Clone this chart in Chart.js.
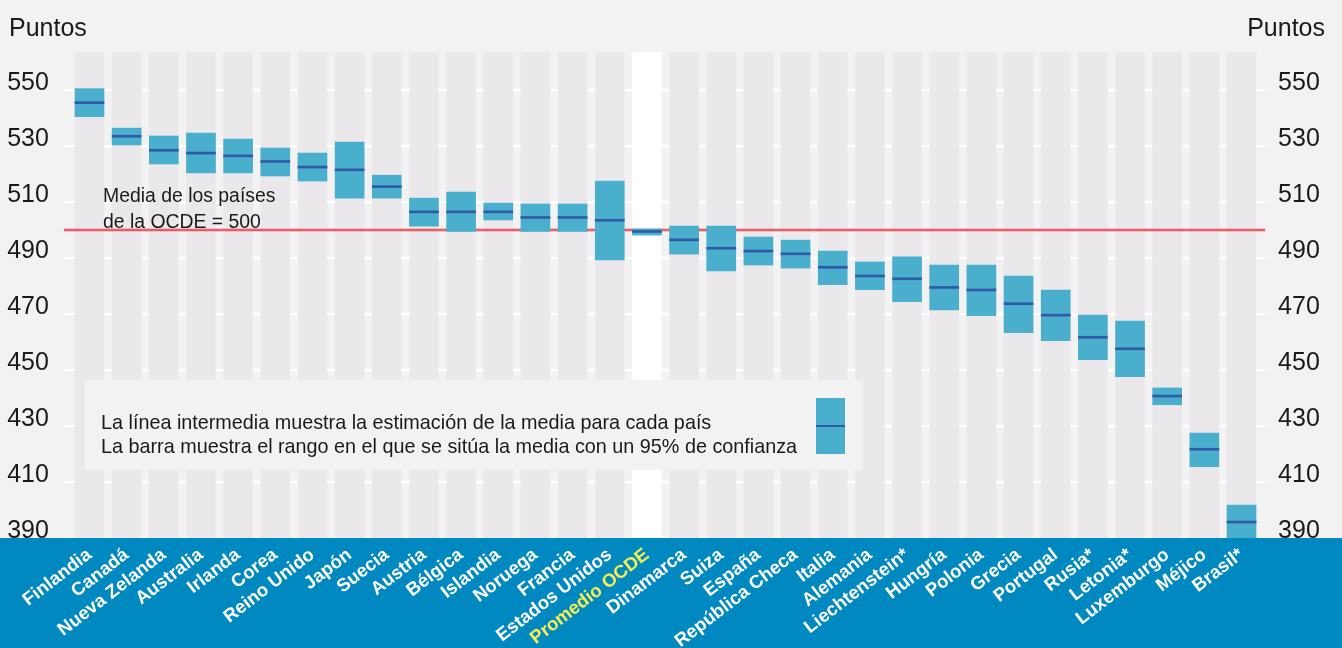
<!DOCTYPE html>
<html>
<head>
<meta charset="utf-8">
<script src="https://cdn.jsdelivr.net/npm/chart.js@4"></script>
<style>
    html, body { margin: 0; padding: 0; background: #f2f2f2; }
    canvas { display: block; }
</style>
</head>
<body>
<canvas id="pisaChart" width="1342" height="648"></canvas>
<script>
// Datos (puntuacion media y rango al 95%)
const categories = ['Finlandia', 'Canadá', 'Nueva Zelanda', 'Australia', 'Irlanda', 'Corea', 'Reino Unido',
    'Japón', 'Suecia', 'Austria', 'Bélgica', 'Islandia', 'Noruega', 'Francia', 'Estados Unidos',
    'Promedio OCDE', 'Dinamarca', 'Suiza', 'España', 'República Checa', 'Italia', 'Alemania',
    'Liechtenstein*', 'Hungría', 'Polonia', 'Grecia', 'Portugal', 'Rusia*', 'Letonia*', 'Luxemburgo',
    'Méjico', 'Brasil*'];
const meanScores = [545.5, 533.5, 528.5, 527.5, 526.5, 524.5, 522.5, 521.5, 515.5, 506.5, 506.5, 506.5,
    504.5, 504.5, 503.5, 499.5, 496.5, 493.5, 492.5, 491.5, 486.7, 483.6, 482.6, 479.5, 478.6, 473.7,
    469.6, 461.7, 457.6, 440.7, 421.7, 395.7];
const lowerBounds = [540.5, 530.4, 523.6, 520.4, 520.4, 519.3, 517.5, 511.4, 511.4, 501.4, 499.5, 503.6,
    499.5, 499.5, 489.3, 498.2, 491.4, 485.4, 487.5, 486.4, 480.5, 478.7, 474.4, 471.5, 469.4, 463.3,
    460.5, 453.7, 447.6, 437.6, 415.5, 390];
const upperBounds = [550.5, 536.4, 533.6, 534.6, 532.5, 529.3, 527.5, 531.4, 519.6, 511.4, 513.6, 509.6,
    509.3, 509.3, 517.5, 500.4, 501.4, 501.4, 497.5, 496.4, 492.5, 488.6, 490.4, 487.5, 487.5, 483.6,
    478.6, 469.6, 467.5, 443.6, 427.5, 401.8];
const yTicks = [390, 410, 430, 450, 470, 490, 510, 530, 550];
const oecdMean = 500;
const legendSample = { low: 420, mean: 430, high: 440 };

const Y_MIN = 390;
const Y_MAX = 563.6;
const FONT = '"Liberation Sans", Arial, sans-serif';

// Fondo azul, linea roja y caja explicativa
const decorations = {
    id: 'decorations',
    beforeDatasetsDraw(chart) {
        const { ctx, chartArea, width, height } = chart;
        ctx.save();
        ctx.fillStyle = '#0088c1';
        ctx.fillRect(0, chartArea.bottom, width, height - chartArea.bottom);
        ctx.restore();
    },
    afterDatasetDraw(chart, args) {
        if (args.index !== 0) return;
        const { ctx, chartArea } = chart;
        const y = chart.scales.y.getPixelForValue(oecdMean);
        ctx.save();
        ctx.strokeStyle = 'rgba(232, 130, 140, 0.55)';
        ctx.lineWidth = 3.5;
        ctx.beginPath();
        ctx.moveTo(chartArea.left - 7, y);
        ctx.lineTo(chartArea.right + 5, y);
        ctx.stroke();
        ctx.strokeStyle = '#e1464d';
        ctx.lineWidth = 1.6;
        ctx.beginPath();
        ctx.moveTo(chartArea.left - 7, y);
        ctx.lineTo(chartArea.right + 5, y);
        ctx.stroke();
        ctx.restore();
    },
    afterDatasetsDraw(chart) {
        const { ctx } = chart;
        const yScale = chart.scales.y;
        ctx.save();

        // caja de leyenda
        ctx.fillStyle = '#f2f2f2';
        ctx.fillRect(85, 380, 778, 90);
        const top = yScale.getPixelForValue(legendSample.high);
        const bottom = yScale.getPixelForValue(legendSample.low);
        const mid = yScale.getPixelForValue(legendSample.mean);
        ctx.fillStyle = '#4aafcd';
        ctx.fillRect(816, top, 29, bottom - top);
        ctx.fillStyle = '#2f5aa6';
        ctx.fillRect(816, mid - 1, 29, 2);

        ctx.fillStyle = '#1a1a1a';
        ctx.textBaseline = 'alphabetic';
        ctx.textAlign = 'left';
        ctx.font = '19.8px ' + FONT;
        ctx.fillText('La línea intermedia muestra la estimación de la media para cada país', 101, 429);
        ctx.fillText('La barra muestra el rango en el que se sitúa la media con un 95% de confianza', 101, 453);

        ctx.font = '19.4px ' + FONT;
        ctx.fillText('Media de los países', 103, 202);
        ctx.fillText('de la OCDE = 500', 103, 228);

        ctx.font = '25px ' + FONT;
        ctx.fillText('Puntos', 9, 36);
        ctx.textAlign = 'right';
        ctx.fillText('Puntos', 1325, 36);
        ctx.restore();
    }
};

function fixTicks(scale) {
    scale.ticks = yTicks.map(v => ({ value: v }));
}

document.addEventListener('DOMContentLoaded', function() {
    const ctx = document.getElementById('pisaChart').getContext('2d');

    new Chart(ctx, {
        type: 'bar',
        data: {
            labels: categories,
            datasets: [
                {
                    // columnas de fondo
                    data: categories.map(() => [Y_MIN, Y_MAX]),
                    backgroundColor: categories.map(c => c === 'Promedio OCDE' ? '#ffffff' : '#eae8eb'),
                    barThickness: 29,
                    grouped: false,
                    order: 3
                },
                {
                    // intervalo de confianza
                    data: categories.map((c, i) => [lowerBounds[i], upperBounds[i]]),
                    backgroundColor: '#4aafcd',
                    barThickness: 29,
                    grouped: false,
                    order: 2
                },
                {
                    // media estimada
                    data: meanScores.map(m => [m - 0.36, m + 0.36]),
                    backgroundColor: '#2f5aa6',
                    barThickness: 29,
                    grouped: false,
                    order: 1
                }
            ]
        },
        options: {
            responsive: false,
            animation: false,
            layout: { padding: { top: 52, left: 0, right: 0, bottom: 0 } },
            plugins: {
                legend: { display: false },
                tooltip: { enabled: false }
            },
            scales: {
                x: {
                    offset: true,
                    grid: { display: false, drawTicks: false },
                    border: { display: false },
                    afterFit: scale => { scale.height = 110; },
                    ticks: {
                        z: 1,
                        autoSkip: false,
                        minRotation: 37.5,
                        maxRotation: 37.5,
                        padding: 6,
                        color: c => c.index === 15 ? '#f6ee55' : '#ffffff',
                        font: { family: FONT, size: 18.5, weight: 'bold' }
                    }
                },
                y: {
                    position: 'left',
                    min: Y_MIN,
                    max: Y_MAX,
                    afterBuildTicks: fixTicks,
                    afterFit: scale => { scale.width = 70.9; },
                    grid: { color: '#ffffff', lineWidth: 2.5, tickLength: 7, drawTicks: true },
                    border: { display: false },
                    ticks: {
                        padding: 15,
                        labelOffset: -7,
                        color: '#1a1a1a',
                        font: { family: FONT, size: 25 }
                    }
                },
                y2: {
                    position: 'right',
                    min: Y_MIN,
                    max: Y_MAX,
                    afterBuildTicks: fixTicks,
                    afterFit: scale => { scale.width = 81.9; },
                    grid: { color: '#ffffff', lineWidth: 2.5, tickLength: 5, drawTicks: true, drawOnChartArea: false },
                    border: { display: false },
                    ticks: {
                        padding: 13,
                        labelOffset: -7,
                        color: '#1a1a1a',
                        font: { family: FONT, size: 25 }
                    }
                }
            }
        },
        plugins: [decorations]
    });
});
</script>
</body>
</html>
